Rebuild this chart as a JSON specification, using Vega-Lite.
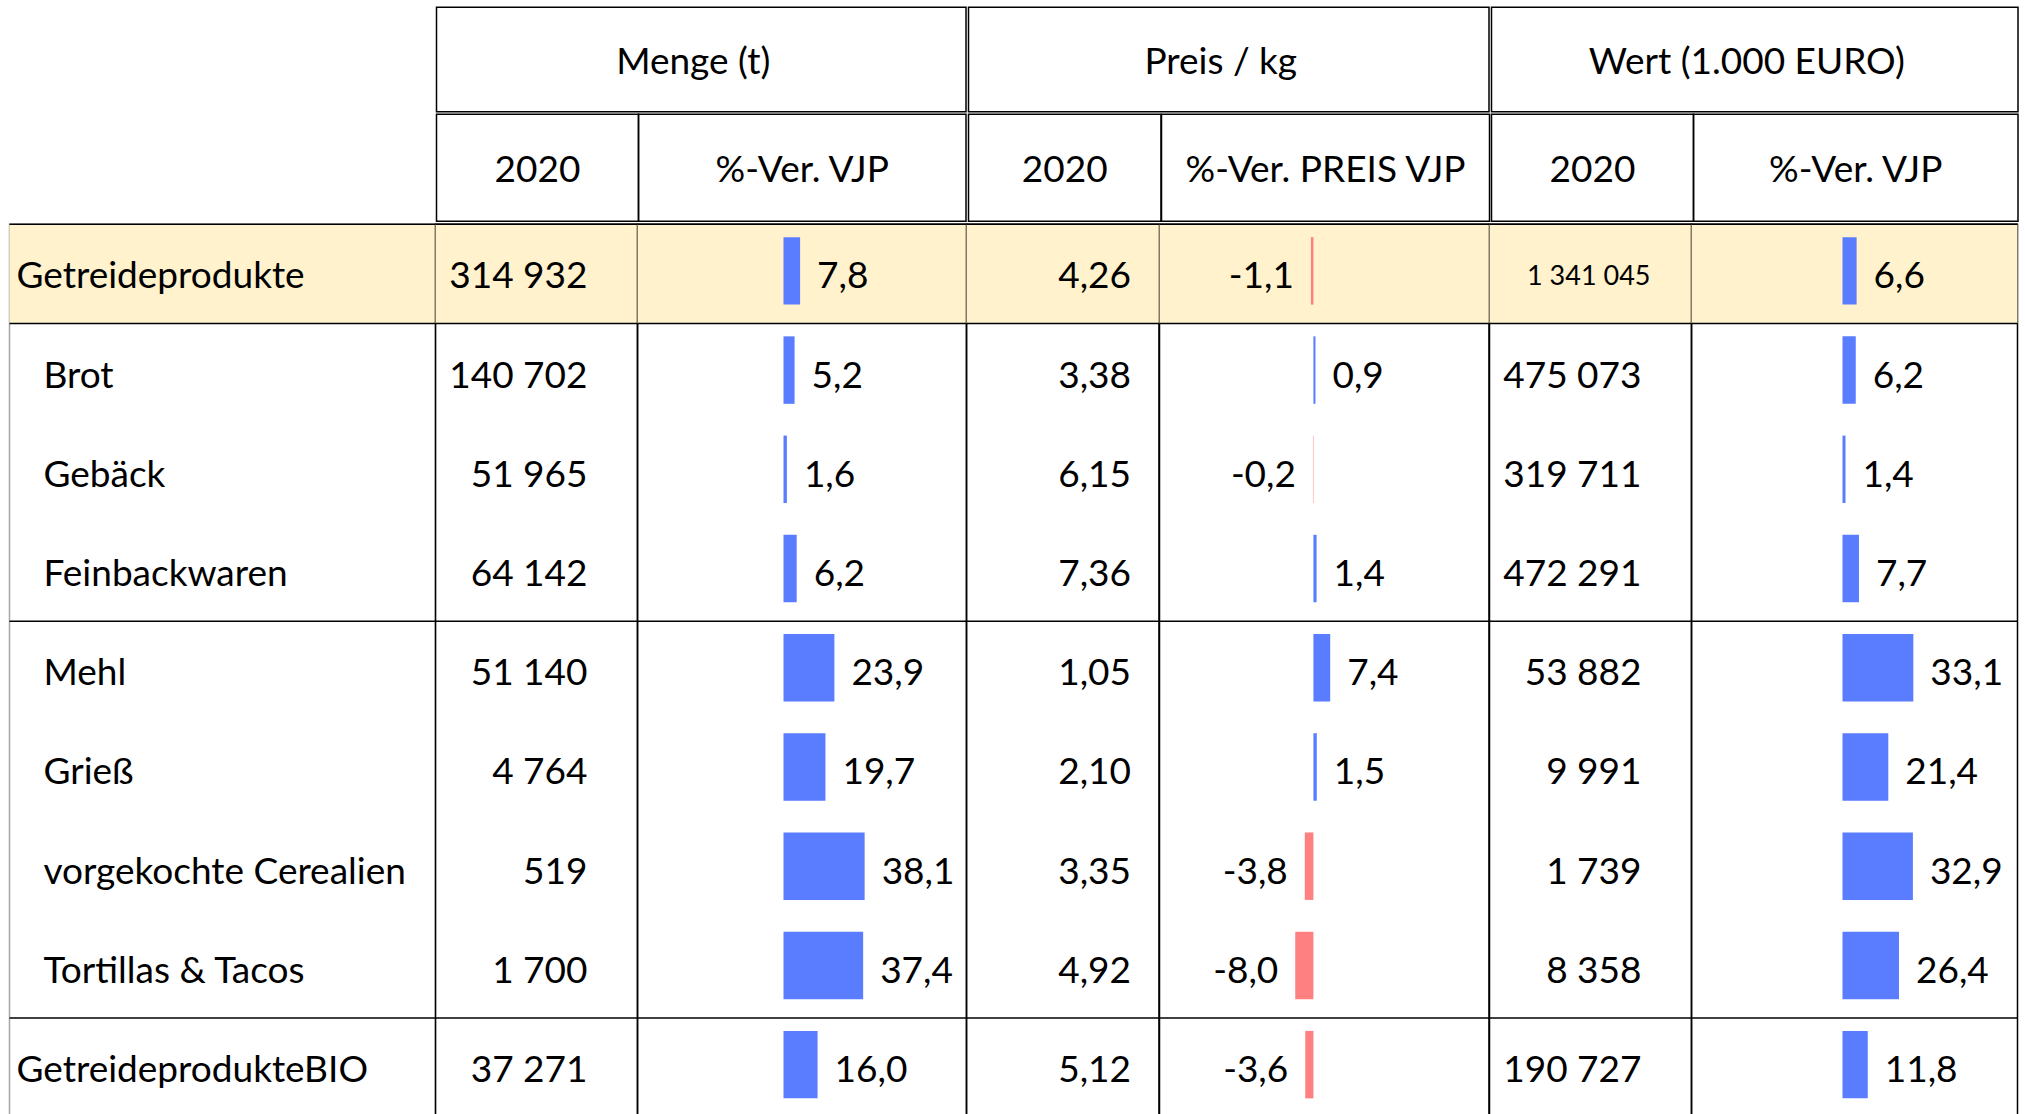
{
  "$schema": "https://vega.github.io/schema/vega-lite/v6.json",
  "padding": {"left": 7.5, "top": 6.25, "right": 0, "bottom": 0},
  "background": "white",
  "spacing": 0,
  "config": {
    "view": {"stroke": "black", "strokeWidth": 1.5},
    "concat": {"spacing": 0},
    "text": {"font": "Lato", "fontSize": 37, "color": "black", "baseline": "middle", "dy": 3.5},
    "locale": {"number": {"decimal": ",", "thousands": " ", "grouping": [3], "currency": ["", " €"], "minus": "-"}}
  },
  "datasets": {
    "rows": [
      {"row": "Getreideprodukte", "level": 0, "total": 1, "groupStart": 1, "m": 314932, "mp": 7.8, "p": 4.26, "pp": -1.1, "w": 1341045, "wp": 6.6},
      {"row": "Brot", "level": 1, "total": 0, "groupStart": 1, "m": 140702, "mp": 5.2, "p": 3.38, "pp": 0.9, "w": 475073, "wp": 6.2},
      {"row": "Gebäck", "level": 1, "total": 0, "groupStart": 0, "m": 51965, "mp": 1.6, "p": 6.15, "pp": -0.2, "w": 319711, "wp": 1.4},
      {"row": "Feinbackwaren", "level": 1, "total": 0, "groupStart": 0, "m": 64142, "mp": 6.2, "p": 7.36, "pp": 1.4, "w": 472291, "wp": 7.7},
      {"row": "Mehl", "level": 1, "total": 0, "groupStart": 1, "m": 51140, "mp": 23.9, "p": 1.05, "pp": 7.4, "w": 53882, "wp": 33.1},
      {"row": "Grieß", "level": 1, "total": 0, "groupStart": 0, "m": 4764, "mp": 19.7, "p": 2.10, "pp": 1.5, "w": 9991, "wp": 21.4},
      {"row": "vorgekochte Cerealien", "level": 1, "total": 0, "groupStart": 0, "m": 519, "mp": 38.1, "p": 3.35, "pp": -3.8, "w": 1739, "wp": 32.9},
      {"row": "Tortillas & Tacos", "level": 1, "total": 0, "groupStart": 0, "m": 1700, "mp": 37.4, "p": 4.92, "pp": -8.0, "w": 8358, "wp": 26.4},
      {"row": "GetreideprodukteBIO", "level": 0, "total": 0, "groupStart": 1, "m": 37271, "mp": 16.0, "p": 5.12, "pp": -3.6, "w": 190727, "wp": 11.8}
    ]
  },
  "vconcat": [
    {
      "spacing": 0,
      "hconcat": [
        {"width": 426, "height": 213, "view": {"stroke": null}, "data": {"values": [{"h": ""}]}, "mark": {"type": "text"}, "encoding": {"text": {"field": "h"}}},
        {
          "spacing": 0,
          "vconcat": [
            {"width": 529.5, "height": 104.5, "data": {"values": [{"h": "Menge (t)"}]}, "mark": {"type": "text", "dx": -8},
             "encoding": {"x": {"field": "h", "type": "nominal", "axis": null, "scale": {"type": "band", "paddingInner": 0, "paddingOuter": 0}, "bandPosition": 0.5}, "y": {"field": "h", "type": "nominal", "axis": null, "scale": {"type": "band", "paddingInner": 0, "paddingOuter": 0}, "bandPosition": 0.5}, "text": {"field": "h"}}},
            {"bounds": "flush", "spacing": 0, "hconcat": [
              {"width": 202, "height": 107, "data": {"values": [{"h": "2020"}]}, "mark": {"type": "text"},
               "encoding": {"x": {"field": "h", "type": "nominal", "axis": null, "scale": {"type": "band", "paddingInner": 0, "paddingOuter": 0}, "bandPosition": 0.5}, "y": {"field": "h", "type": "nominal", "axis": null, "scale": {"type": "band", "paddingInner": 0, "paddingOuter": 0}, "bandPosition": 0.5}, "text": {"field": "h"}}},
              {"width": 327.5, "height": 107, "data": {"values": [{"h": "%-Ver. VJP"}]}, "mark": {"type": "text"},
               "encoding": {"x": {"field": "h", "type": "nominal", "axis": null, "scale": {"type": "band", "paddingInner": 0, "paddingOuter": 0}, "bandPosition": 0.5}, "y": {"field": "h", "type": "nominal", "axis": null, "scale": {"type": "band", "paddingInner": 0, "paddingOuter": 0}, "bandPosition": 0.5}, "text": {"field": "h"}}}
            ]}
          ]
        },
        {
          "spacing": 0,
          "vconcat": [
            {"width": 520.5, "height": 104.5, "data": {"values": [{"h": "Preis / kg"}]}, "mark": {"type": "text", "dx": -8},
             "encoding": {"x": {"field": "h", "type": "nominal", "axis": null, "scale": {"type": "band", "paddingInner": 0, "paddingOuter": 0}, "bandPosition": 0.5}, "y": {"field": "h", "type": "nominal", "axis": null, "scale": {"type": "band", "paddingInner": 0, "paddingOuter": 0}, "bandPosition": 0.5}, "text": {"field": "h"}}},
            {"bounds": "flush", "spacing": 0, "hconcat": [
              {"width": 192.5, "height": 107, "data": {"values": [{"h": "2020"}]}, "mark": {"type": "text"},
               "encoding": {"x": {"field": "h", "type": "nominal", "axis": null, "scale": {"type": "band", "paddingInner": 0, "paddingOuter": 0}, "bandPosition": 0.5}, "y": {"field": "h", "type": "nominal", "axis": null, "scale": {"type": "band", "paddingInner": 0, "paddingOuter": 0}, "bandPosition": 0.5}, "text": {"field": "h"}}},
              {"width": 328, "height": 107, "data": {"values": [{"h": "%-Ver. PREIS VJP"}]}, "mark": {"type": "text"},
               "encoding": {"x": {"field": "h", "type": "nominal", "axis": null, "scale": {"type": "band", "paddingInner": 0, "paddingOuter": 0}, "bandPosition": 0.5}, "y": {"field": "h", "type": "nominal", "axis": null, "scale": {"type": "band", "paddingInner": 0, "paddingOuter": 0}, "bandPosition": 0.5}, "text": {"field": "h"}}}
            ]}
          ]
        },
        {
          "spacing": 0,
          "vconcat": [
            {"width": 526.5, "height": 104.5, "data": {"values": [{"h": "Wert (1.000 EURO)"}]}, "mark": {"type": "text", "dx": -8},
             "encoding": {"x": {"field": "h", "type": "nominal", "axis": null, "scale": {"type": "band", "paddingInner": 0, "paddingOuter": 0}, "bandPosition": 0.5}, "y": {"field": "h", "type": "nominal", "axis": null, "scale": {"type": "band", "paddingInner": 0, "paddingOuter": 0}, "bandPosition": 0.5}, "text": {"field": "h"}}},
            {"bounds": "flush", "spacing": 0, "hconcat": [
              {"width": 202, "height": 107, "data": {"values": [{"h": "2020"}]}, "mark": {"type": "text"},
               "encoding": {"x": {"field": "h", "type": "nominal", "axis": null, "scale": {"type": "band", "paddingInner": 0, "paddingOuter": 0}, "bandPosition": 0.5}, "y": {"field": "h", "type": "nominal", "axis": null, "scale": {"type": "band", "paddingInner": 0, "paddingOuter": 0}, "bandPosition": 0.5}, "text": {"field": "h"}}},
              {"width": 324.5, "height": 107, "data": {"values": [{"h": "%-Ver. VJP"}]}, "mark": {"type": "text"},
               "encoding": {"x": {"field": "h", "type": "nominal", "axis": null, "scale": {"type": "band", "paddingInner": 0, "paddingOuter": 0}, "bandPosition": 0.5}, "y": {"field": "h", "type": "nominal", "axis": null, "scale": {"type": "band", "paddingInner": 0, "paddingOuter": 0}, "bandPosition": 0.5}, "text": {"field": "h"}}}
            ]}
          ]
        }
      ]
    },
    {
      "bounds": "flush",
      "spacing": 0,
      "hconcat": [
        {
          "width": 426, "height": 893, "data": {"name": "rows"}, "view": {"stroke": "#a6a6a6"},
          "layer": [
            {"transform": [{"filter": "datum.total == 1"}], "mark": {"type": "bar", "color": "#FFF2CC"},
             "encoding": {"y": {"field": "row", "type": "nominal", "axis": null, "scale": {"type": "band", "domain": ["Getreideprodukte", "Brot", "Gebäck", "Feinbackwaren", "Mehl", "Grieß", "vorgekochte Cerealien", "Tortillas & Tacos", "GetreideprodukteBIO"], "paddingInner": 0, "paddingOuter": 0}}}},
            {"transform": [{"filter": "datum.groupStart == 1"}], "mark": {"type": "rule", "color": "black", "strokeWidth": 1.5},
             "encoding": {"y": {"field": "row", "type": "nominal", "axis": null, "bandPosition": 0}}},
            {"transform": [{"filter": "datum.level == 0"}], "mark": {"type": "text", "align": "left", "dx": 7},
             "encoding": {"x": {"datum": "label", "type": "nominal", "axis": null, "scale": {"type": "band", "paddingInner": 0, "paddingOuter": 0}, "bandPosition": 0}, "y": {"field": "row", "type": "nominal", "axis": null, "bandPosition": 0.5}, "text": {"field": "row"}}},
            {"transform": [{"filter": "datum.level == 1"}], "mark": {"type": "text", "align": "left", "dx": 34},
             "encoding": {"x": {"datum": "label", "type": "nominal", "axis": null, "scale": {"type": "band", "paddingInner": 0, "paddingOuter": 0}, "bandPosition": 0}, "y": {"field": "row", "type": "nominal", "axis": null, "bandPosition": 0.5}, "text": {"field": "row"}}}
          ]
        },
        {
          "width": 202, "height": 893, "data": {"name": "rows"},
          "layer": [
            {"transform": [{"filter": "datum.total == 1"}], "mark": {"type": "bar", "color": "#FFF2CC"},
             "encoding": {"y": {"field": "row", "type": "nominal", "axis": null, "scale": {"type": "band", "domain": ["Getreideprodukte", "Brot", "Gebäck", "Feinbackwaren", "Mehl", "Grieß", "vorgekochte Cerealien", "Tortillas & Tacos", "GetreideprodukteBIO"], "paddingInner": 0, "paddingOuter": 0}}}},
            {"transform": [{"filter": "datum.groupStart == 1"}], "mark": {"type": "rule", "color": "black", "strokeWidth": 1.5},
             "encoding": {"y": {"field": "row", "type": "nominal", "axis": null, "bandPosition": 0}}},
            {"mark": {"type": "text", "align": "right", "dx": -50},
             "encoding": {"x": {"datum": "m", "type": "nominal", "axis": null, "scale": {"type": "band", "paddingInner": 0, "paddingOuter": 0}, "bandPosition": 1}, "y": {"field": "row", "type": "nominal", "axis": null, "bandPosition": 0.5}, "text": {"field": "m", "type": "quantitative", "format": ",d"}}}
          ]
        },
        {
          "width": 329, "height": 893, "data": {"name": "rows"},
          "layer": [
            {"transform": [{"filter": "datum.total == 1"}], "mark": {"type": "bar", "color": "#FFF2CC"},
             "encoding": {"y": {"field": "row", "type": "nominal", "axis": null, "scale": {"type": "band", "domain": ["Getreideprodukte", "Brot", "Gebäck", "Feinbackwaren", "Mehl", "Grieß", "vorgekochte Cerealien", "Tortillas & Tacos", "GetreideprodukteBIO"], "paddingInner": 0, "paddingOuter": 0}}}},
            {"transform": [{"filter": "datum.groupStart == 1"}], "mark": {"type": "rule", "color": "black", "strokeWidth": 1.5},
             "encoding": {"y": {"field": "row", "type": "nominal", "axis": null, "bandPosition": 0}}},
            {"mark": {"type": "bar", "height": {"band": 0.68}, "yOffset": -3},
             "encoding": {"y": {"field": "row", "type": "nominal", "axis": null}, "x": {"field": "mp", "type": "quantitative", "axis": null, "scale": {"domain": [-68.54, 85.92], "nice": false, "zero": false}}, "color": {"condition": {"test": "datum.mp < 0", "value": "#FF8080"}, "value": "#5A7DFF"}}},
            {"transform": [{"filter": "datum.mp >= 0"}], "mark": {"type": "text", "align": "left", "dx": 17},
             "encoding": {"y": {"field": "row", "type": "nominal", "axis": null, "bandPosition": 0.5}, "x": {"field": "mp", "type": "quantitative", "axis": null}, "text": {"field": "mp", "type": "quantitative", "format": ".1f"}}},
            {"transform": [{"filter": "datum.mp < 0"}], "mark": {"type": "text", "align": "right", "dx": -17},
             "encoding": {"y": {"field": "row", "type": "nominal", "axis": null, "bandPosition": 0.5}, "x": {"field": "mp", "type": "quantitative", "axis": null}, "text": {"field": "mp", "type": "quantitative", "format": ".1f"}}}
          ]
        },
        {
          "width": 192.5, "height": 893, "data": {"name": "rows"},
          "layer": [
            {"transform": [{"filter": "datum.total == 1"}], "mark": {"type": "bar", "color": "#FFF2CC"},
             "encoding": {"y": {"field": "row", "type": "nominal", "axis": null, "scale": {"type": "band", "domain": ["Getreideprodukte", "Brot", "Gebäck", "Feinbackwaren", "Mehl", "Grieß", "vorgekochte Cerealien", "Tortillas & Tacos", "GetreideprodukteBIO"], "paddingInner": 0, "paddingOuter": 0}}}},
            {"transform": [{"filter": "datum.groupStart == 1"}], "mark": {"type": "rule", "color": "black", "strokeWidth": 1.5},
             "encoding": {"y": {"field": "row", "type": "nominal", "axis": null, "bandPosition": 0}}},
            {"mark": {"type": "text", "align": "right", "dx": -28},
             "encoding": {"x": {"datum": "p", "type": "nominal", "axis": null, "scale": {"type": "band", "paddingInner": 0, "paddingOuter": 0}, "bandPosition": 1}, "y": {"field": "row", "type": "nominal", "axis": null, "bandPosition": 0.5}, "text": {"field": "p", "type": "quantitative", "format": ".2f"}}}
          ]
        },
        {
          "width": 329.5, "height": 893, "data": {"name": "rows"},
          "layer": [
            {"transform": [{"filter": "datum.total == 1"}], "mark": {"type": "bar", "color": "#FFF2CC"},
             "encoding": {"y": {"field": "row", "type": "nominal", "axis": null, "scale": {"type": "band", "domain": ["Getreideprodukte", "Brot", "Gebäck", "Feinbackwaren", "Mehl", "Grieß", "vorgekochte Cerealien", "Tortillas & Tacos", "GetreideprodukteBIO"], "paddingInner": 0, "paddingOuter": 0}}}},
            {"transform": [{"filter": "datum.groupStart == 1"}], "mark": {"type": "rule", "color": "black", "strokeWidth": 1.5},
             "encoding": {"y": {"field": "row", "type": "nominal", "axis": null, "bandPosition": 0}}},
            {"mark": {"type": "bar", "height": {"band": 0.68}, "yOffset": -3},
             "encoding": {"y": {"field": "row", "type": "nominal", "axis": null}, "x": {"field": "pp", "type": "quantitative", "axis": null, "scale": {"domain": [-67.8, 77.35], "nice": false, "zero": false}}, "color": {"condition": {"test": "datum.pp < 0", "value": "#FF8080"}, "value": "#5A7DFF"}}},
            {"transform": [{"filter": "datum.pp >= 0"}], "mark": {"type": "text", "align": "left", "dx": 17},
             "encoding": {"y": {"field": "row", "type": "nominal", "axis": null, "bandPosition": 0.5}, "x": {"field": "pp", "type": "quantitative", "axis": null}, "text": {"field": "pp", "type": "quantitative", "format": ".1f"}}},
            {"transform": [{"filter": "datum.pp < 0"}], "mark": {"type": "text", "align": "right", "dx": -17},
             "encoding": {"y": {"field": "row", "type": "nominal", "axis": null, "bandPosition": 0.5}, "x": {"field": "pp", "type": "quantitative", "axis": null}, "text": {"field": "pp", "type": "quantitative", "format": ".1f"}}}
          ]
        },
        {
          "width": 202, "height": 893, "data": {"name": "rows"},
          "layer": [
            {"transform": [{"filter": "datum.total == 1"}], "mark": {"type": "bar", "color": "#FFF2CC"},
             "encoding": {"y": {"field": "row", "type": "nominal", "axis": null, "scale": {"type": "band", "domain": ["Getreideprodukte", "Brot", "Gebäck", "Feinbackwaren", "Mehl", "Grieß", "vorgekochte Cerealien", "Tortillas & Tacos", "GetreideprodukteBIO"], "paddingInner": 0, "paddingOuter": 0}}}},
            {"transform": [{"filter": "datum.groupStart == 1"}], "mark": {"type": "rule", "color": "black", "strokeWidth": 1.5},
             "encoding": {"y": {"field": "row", "type": "nominal", "axis": null, "bandPosition": 0}}},
            {"transform": [{"filter": "datum.total != 1"}], "mark": {"type": "text", "align": "right", "dx": -50},
             "encoding": {"x": {"datum": "w", "type": "nominal", "axis": null, "scale": {"type": "band", "paddingInner": 0, "paddingOuter": 0}, "bandPosition": 1}, "y": {"field": "row", "type": "nominal", "axis": null, "bandPosition": 0.5}, "text": {"field": "w", "type": "quantitative", "format": ",d"}}},
            {"transform": [{"filter": "datum.total == 1"}], "mark": {"type": "text", "align": "right", "dx": -41, "fontSize": 27},
             "encoding": {"x": {"datum": "w", "type": "nominal", "axis": null, "scale": {"type": "band", "paddingInner": 0, "paddingOuter": 0}, "bandPosition": 1}, "y": {"field": "row", "type": "nominal", "axis": null, "bandPosition": 0.5}, "text": {"field": "w", "type": "quantitative", "format": ",d"}}}
          ]
        },
        {
          "width": 326, "height": 893, "data": {"name": "rows"},
          "layer": [
            {"transform": [{"filter": "datum.total == 1"}], "mark": {"type": "bar", "color": "#FFF2CC"},
             "encoding": {"y": {"field": "row", "type": "nominal", "axis": null, "scale": {"type": "band", "domain": ["Getreideprodukte", "Brot", "Gebäck", "Feinbackwaren", "Mehl", "Grieß", "vorgekochte Cerealien", "Tortillas & Tacos", "GetreideprodukteBIO"], "paddingInner": 0, "paddingOuter": 0}}}},
            {"transform": [{"filter": "datum.groupStart == 1"}], "mark": {"type": "rule", "color": "black", "strokeWidth": 1.5},
             "encoding": {"y": {"field": "row", "type": "nominal", "axis": null, "bandPosition": 0}}},
            {"mark": {"type": "bar", "height": {"band": 0.68}, "yOffset": -3},
             "encoding": {"y": {"field": "row", "type": "nominal", "axis": null}, "x": {"field": "wp", "type": "quantitative", "axis": null, "scale": {"domain": [-70.56, 81.78], "nice": false, "zero": false}}, "color": {"condition": {"test": "datum.wp < 0", "value": "#FF8080"}, "value": "#5A7DFF"}}},
            {"transform": [{"filter": "datum.wp >= 0"}], "mark": {"type": "text", "align": "left", "dx": 17},
             "encoding": {"y": {"field": "row", "type": "nominal", "axis": null, "bandPosition": 0.5}, "x": {"field": "wp", "type": "quantitative", "axis": null}, "text": {"field": "wp", "type": "quantitative", "format": ".1f"}}},
            {"transform": [{"filter": "datum.wp < 0"}], "mark": {"type": "text", "align": "right", "dx": -17},
             "encoding": {"y": {"field": "row", "type": "nominal", "axis": null, "bandPosition": 0.5}, "x": {"field": "wp", "type": "quantitative", "axis": null}, "text": {"field": "wp", "type": "quantitative", "format": ".1f"}}}
          ]
        }
      ]
    }
  ]
}
